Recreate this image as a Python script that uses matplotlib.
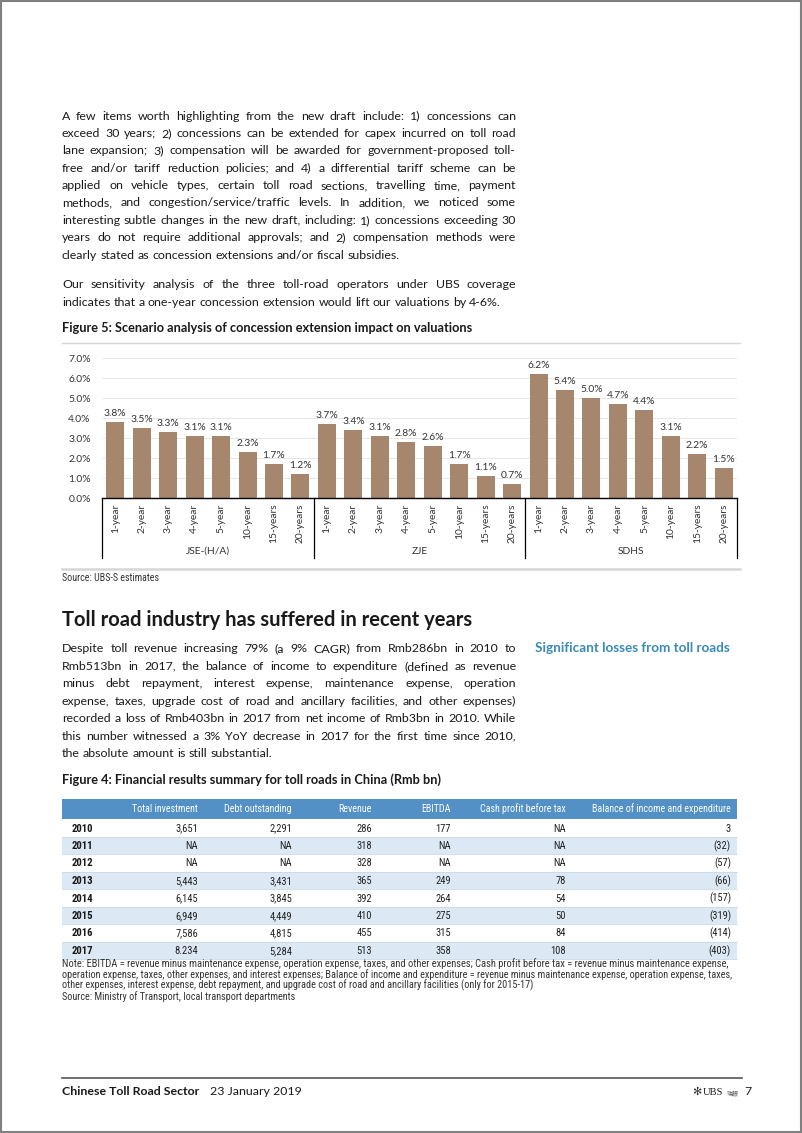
import matplotlib.pyplot as plt
import matplotlib.transforms as mtransforms
from matplotlib import font_manager
from matplotlib.patches import Rectangle

# ---- data ----
groups = ['JSE-(H/A)', 'ZJE', 'SDHS']
periods = ['1-year', '2-year', '3-year', '4-year', '5-year', '10-year', '15-years', '20-years']
jse = [3.8, 3.5, 3.3, 3.1, 3.1, 2.3, 1.7, 1.2]
zje = [3.7, 3.4, 3.1, 2.8, 2.6, 1.7, 1.1, 0.7]
sdhs = [6.2, 5.4, 5.0, 4.7, 4.4, 3.1, 2.2, 1.5]
yticks = [0, 1, 2, 3, 4, 5, 6, 7]

tbl_cols = ['Total investment', 'Debt outstanding', 'Revenue', 'EBITDA',
            'Cash profit before tax', 'Balance of income and expenditure']
tbl_years = ['2010', '2011', '2012', '2013', '2014', '2015', '2016', '2017']
total_inv = ['3,651', 'NA', 'NA', '5,443', '6,145', '6,949', '7,586', '8.234']
debt = ['2,291', 'NA', 'NA', '3,431', '3,845', '4,449', '4,815', '5,284']
revenue = ['286', '318', '328', '365', '392', '410', '455', '513']
ebitda = ['177', 'NA', 'NA', '249', '264', '275', '315', '358']
cash = ['NA', 'NA', 'NA', '78', '54', '50', '84', '108']
balance = ['3', '(32)', '(57)', '(66)', '(157)', '(319)', '(414)', '(403)']

para1 = [
    "A few items worth highlighting from the new draft include: 1) concessions can",
    "exceed 30 years; 2) concessions can be extended for capex incurred on toll road",
    "lane expansion; 3) compensation will be awarded for government-proposed toll-",
    "free and/or tariff reduction policies; and 4) a differential tariff scheme can be",
    "applied on vehicle types, certain toll road sections, travelling time, payment",
    "methods, and congestion/service/traffic levels. In addition, we noticed some",
    "interesting subtle changes in the new draft, including: 1) concessions exceeding 30",
    "years do not require additional approvals; and 2) compensation methods were",
    "clearly stated as concession extensions and/or fiscal subsidies.",
]
para2 = [
    "Our sensitivity analysis of the three toll-road operators under UBS coverage",
    "indicates that a one-year concession extension would lift our valuations by 4-6%.",
]
para3 = [
    "Despite toll revenue increasing 79% (a 9% CAGR) from Rmb286bn in 2010 to",
    "Rmb513bn in 2017, the balance of income to expenditure (defined as revenue",
    "minus debt repayment, interest expense, maintenance expense, operation",
    "expense, taxes, upgrade cost of road and ancillary facilities, and other expenses)",
    "recorded a loss of Rmb403bn in 2017 from net income of Rmb3bn in 2010. While",
    "this number witnessed a 3% YoY decrease in 2017 for the first time since 2010,",
    "the absolute amount is still substantial.",
]
notes = [
    "Note: EBITDA = revenue minus maintenance expense, operation expense, taxes, and other expenses; "
    "Cash profit before tax = revenue minus maintenance expense,",
    "operation expense, taxes, other expenses, and interest expenses; Balance of income and expenditure = "
    "revenue minus maintenance expense, operation expense, taxes,",
    "other expenses, interest expense, debt repayment, and upgrade cost of road and ancillary facilities (only for 2015-17)",
]

# ---- fonts ----
fl = font_manager.fontManager.ttflist
names = {f.name for f in fl}
BODY = 'Lato' if 'Lato' in names else 'DejaVu Sans'
NARROW = {'family': BODY}
for cand in ['Roboto Condensed', 'Liberation Sans Narrow', 'Open Sans Condensed']:
    if cand in names:
        NARROW = {'family': cand}
        break
else:
    if any(f.name == 'DejaVu Sans' and f.stretch == 'condensed' for f in fl):
        NARROW = {'family': 'DejaVu Sans', 'fontstretch': 'condensed'}
plt.rcParams['font.family'] = [BODY, 'Noto Sans CJK TC', 'DejaVu Sans']

TXT = '#1a1a1a'
W, H = 802, 1133
fig = plt.figure(figsize=(W / 100, H / 100), dpi=100)
fig.patch.set_facecolor('white')
page = fig.add_axes([0, 0, 1, 1])
page.set_xlim(0, W)
page.set_ylim(H, 0)
page.axis('off')
renderer = fig.canvas.get_renderer()


def width_of(s, size, **kw):
    t = page.text(0, 0, s, fontsize=size, **kw)
    w = t.get_window_extent(renderer).width
    t.remove()
    return w


def fit(x, y, s, target, ha='left', **kw):
    # font size chosen so the string spans the width seen in the reference
    size = 10 * target / width_of(s, 10, **{k: v for k, v in kw.items() if k in ('fontweight', 'family', 'fontstretch')})
    return page.text(x, y, s, fontsize=size, ha=ha, va='baseline', **kw), size


def para_size(lines, x0, x1):
    longest = max(lines, key=lambda l: width_of(l, 10))
    return 10 * (x1 - x0) * 0.985 / width_of(longest, 10)


def justify(lines, x0, x1, y0, dy, size):
    space = width_of('a a', size) - width_of('aa', size)
    for i, line in enumerate(lines):
        y = y0 + i * dy
        words = line.split(' ')
        texts = [page.text(0, y, w, va='baseline', ha='left', fontsize=size, color=TXT) for w in words]
        widths = [t.get_window_extent(renderer).width for t in texts]
        if i == len(lines) - 1:
            gap = space
        else:
            gap = (x1 - x0 - sum(widths)) / (len(words) - 1)
        x = x0
        for t, w in zip(texts, widths):
            t.set_x(x)
            x += w + gap


# ---- page frame ----
page.add_patch(Rectangle((0.5, 0.5), W - 1.5, H - 1.5, fill=False, ec='#808080', lw=1.5))

# ---- top text ----
bsize = para_size(para1, 62, 516)
justify(para1, 62, 516, 119.5, 17.4, bsize)
justify(para2, 62, 516, 288.5, 17.4, bsize)
fit(62, 332, 'Figure 5: Scenario analysis of concession extension impact on valuations', 411,
    fontweight='bold', color=TXT)

# ---- bar chart ----
page.plot([62, 740], [343, 343], color='#d6d6d6', lw=1)
page.plot([62, 740], [569, 569], color='#d6d6d6', lw=1.8)
fit(62, 581, 'Source: UBS-S estimates', 96, color='#333333', **NARROW)

ax = fig.add_axes([102 / W, 1 - 498 / H, 635 / W, 140 / H])
values = jse + zje + sdhs
xs = list(range(len(values)))
bars = ax.bar(xs, values, width=0.68, color='#a6866c', zorder=2)
ax.bar_label(bars, labels=[f'{v:.1f}%' for v in values], padding=3, fontsize=7.4, color='#333333')
ax.set_xlim(-0.5, len(values) - 0.5)
ax.set_ylim(0, 7)
ax.set_yticks(yticks)
ax.set_yticklabels([f'{v:.1f}%' for v in yticks], fontsize=7.4, color='#333333')
ax.set_xticks(xs)
ax.set_xticklabels(periods * len(groups), rotation=90, fontsize=7.4, color='#333333')
ax.tick_params(axis='y', length=0, pad=8)
ax.tick_params(axis='x', length=0, pad=4)
ax.grid(axis='y', color='#e3e3e3', lw=0.6, zorder=0)
for s in ['top', 'right', 'left']:
    ax.spines[s].set_visible(False)
ax.spines['bottom'].set_color('black')
ax.spines['bottom'].set_linewidth(1.0)
ax.patch.set_alpha(0)

trans = mtransforms.blended_transform_factory(ax.transData, ax.transAxes)
n = len(periods)
for g in range(len(groups) + 1):
    xb = g * n - 0.5
    ax.plot([xb, xb], [0, -60 / 140], transform=trans, color='black', lw=0.9, clip_on=False)
for g, name in enumerate(groups):
    ax.text(g * n + (n - 1) / 2, -53 / 140, name, transform=trans, ha='center', va='center',
            fontsize=7.4, color='#333333')

# ---- section two ----
fit(62, 626, 'Toll road industry has suffered in recent years', 411, fontweight='bold', color=TXT)
justify(para3, 62, 516, 652.5, 17.4, para_size(para3, 62, 516))
fit(535, 652.5, 'Significant losses from toll roads', 195, fontweight='bold', color='#3a8ab8')

fit(62, 784, 'Figure 4: Financial results summary for toll roads in China (Rmb bn)', 381,
    fontweight='bold', color=TXT)

# ---- table ----
col_right = [198, 292, 372, 451, 566, 731]
columns = [total_inv, debt, revenue, ebitda, cash, balance]
page.add_patch(Rectangle((62, 799), 675, 19.5, color='#5290c5', lw=0))
_, hsize = fit(731, 812.5, tbl_cols[-1], 138, ha='right', color='white', **NARROW)
for cx, c in zip(col_right[:-1], tbl_cols[:-1]):
    page.text(cx, 812.5, c, ha='right', va='baseline', fontsize=hsize, color='white', **NARROW)
row0, rh = 828, 17.5
for i, yr in enumerate(tbl_years):
    yc = row0 + i * rh
    if i % 2 == 1:
        page.add_patch(Rectangle((62, yc - rh / 2), 675, rh, color='#dce9f4', lw=0))
    page.plot([62, 737], [yc + rh / 2, yc + rh / 2], color='#c7daea', lw=0.6)
    page.text(72, yc + 3.5, yr, ha='left', va='baseline', fontsize=hsize * 1.08, fontweight='bold',
              color=TXT, **NARROW)
    for cx, col in zip(col_right, columns):
        page.text(cx, yc + 3.5, col[i], ha='right', va='baseline', fontsize=hsize * 1.05,
                  color='#222222', **NARROW)

note_w = [668, 670, 469]
for i, line in enumerate(notes):
    fit(62, 967 + i * 10.6, line, note_w[i], color='#333333', **NARROW)
fit(62, 1000, 'Source: Ministry of Transport, local transport departments', 232, color='#333333', **NARROW)

# ---- footer ----
page.plot([62, 742], [1078, 1078], color='#555555', lw=1.2)
t, fsize = fit(62, 1095, 'Chinese Toll Road Sector', 138, fontweight='bold', color=TXT)
page.text(210, 1095, '23 January 2019', fontsize=fsize, color=TXT, va='baseline')
# logo block laid out left to right
logo = [('✻', 8, {'family': 'DejaVu Sans', 'color': '#333333'}, 1.5),
        ('UBS', 7.6, {'family': 'Liberation Serif', 'color': TXT}, 3.5),
        ('瑞銀', 4.3, {'color': '#555555'}, 5.5),
        ('7', fsize, {'color': TXT}, 0)]
x = 692
for s, sz, kw, gap in logo:
    page.text(x, 1095, s, fontsize=sz, va='baseline', ha='left', **kw)
    x += width_of(s, sz, **{k: v for k, v in kw.items() if k == 'family'}) + gap

fig.savefig('out.png', dpi=100, facecolor='white')
